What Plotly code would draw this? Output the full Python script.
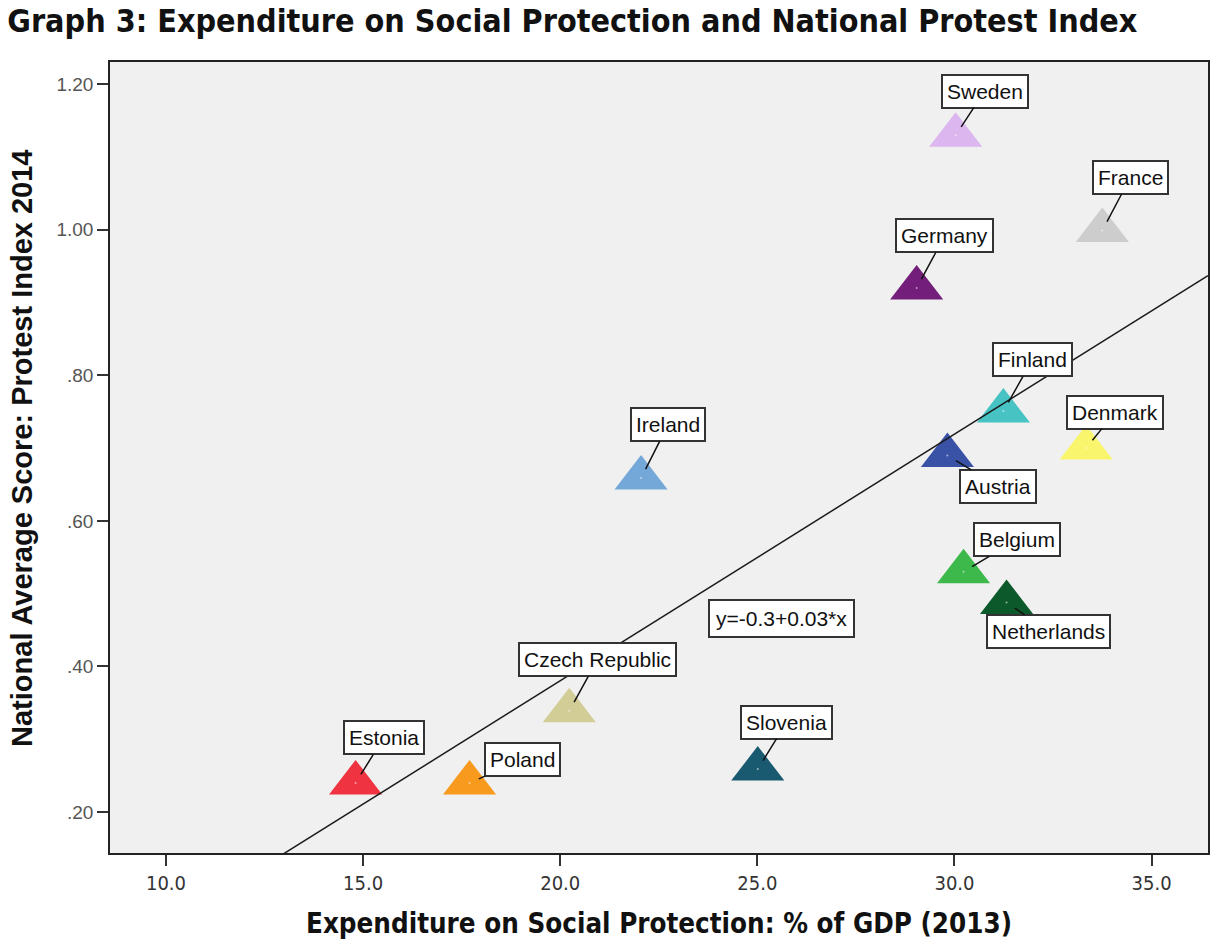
import numpy as np
import plotly.graph_objects as go

# Country data: social-protection spending (% of GDP, 2013) and protest index (2014)
countries = ["Sweden", "France", "Germany", "Finland", "Austria", "Denmark",
             "Belgium", "Netherlands", "Ireland", "Czech Republic", "Estonia",
             "Poland", "Slovenia"]
expenditure = [30.03, 33.75, 29.04, 31.24, 29.82, 33.34,
               30.23, 31.32, 22.05, 20.23, 14.81, 17.70, 25.01]
protest_index = [1.130, 0.999, 0.920, 0.751, 0.690, 0.700,
                 0.530, 0.488, 0.659, 0.339, 0.240, 0.240, 0.259]

x_ticks = [10.0, 15.0, 20.0, 25.0, 30.0, 35.0]
x_tick_text = ["10.0", "15.0", "20.0", "25.0", "30.0", "35.0"]
y_ticks = [0.20, 0.40, 0.60, 0.80, 1.00, 1.20]
y_tick_text = [".20", ".40", ".60", ".80", "1.00", "1.20"]

# Marker colours per country
colors = ["#dcb6ee", "#cdcdcd", "#731e7a", "#47c3c4", "#3a52a6", "#f9f56c",
          "#3cb94a", "#0c5a2b", "#73a8d9", "#d2cd96", "#ef3340", "#f79a1e",
          "#1a5a70"]

# Label box offsets (pixels from the point to the box centre)
label_offsets = {
    "Sweden": (29, -44), "France": (28, -53), "Germany": (28, -52),
    "Finland": (29, -51), "Austria": (51, 31), "Denmark": (29, -36),
    "Belgium": (53, -32), "Netherlands": (42, 29), "Ireland": (27, -53),
    "Czech Republic": (28, -51), "Estonia": (28, -45), "Poland": (53, -23),
    "Slovenia": (29, -47),
}

x_range = [8.58, 36.43]
y_range = [0.1437, 1.2305]

# Least-squares fit line
slope, intercept = np.polyfit(expenditure, protest_index, 1)
fit_x = np.array(x_range)
fit_y = intercept + slope * fit_x

LABEL_FONT = "Liberation Sans, Arial, sans-serif"
NARROW_FONT = "Liberation Sans Narrow, Arial Narrow, DejaVu Sans Condensed, Liberation Sans, sans-serif"

fig = go.Figure()

fig.add_trace(go.Scatter(
    x=expenditure, y=protest_index, mode="markers",
    marker=dict(symbol="triangle-up", size=46, color=colors, line=dict(width=0)),
    hoverinfo="text", text=countries, showlegend=False,
))
# small centre dots
fig.add_trace(go.Scatter(
    x=expenditure, y=protest_index, mode="markers",
    marker=dict(symbol="circle", size=2, color="rgba(255,255,255,0.55)"),
    hoverinfo="skip", showlegend=False,
))
fig.add_trace(go.Scatter(
    x=fit_x, y=fit_y, mode="lines",
    line=dict(color="#1a1a1a", width=1.5),
    hoverinfo="skip", showlegend=False,
))

for name, xv, yv in zip(countries, expenditure, protest_index):
    ax, ay = label_offsets[name]
    fig.add_annotation(
        x=xv, y=yv, xref="x", yref="y", text=name,
        showarrow=True, arrowhead=0, arrowwidth=1.5, arrowcolor="#111",
        standoff=10, ax=ax, ay=ay,
        font=dict(family=LABEL_FONT, size=21, color="#111"),
        bgcolor="white", bordercolor="#333", borderwidth=2, borderpad=4,
    )

fig.add_annotation(
    x=25.62, y=0.466, xref="x", yref="y",
    text=f"y={intercept:.1f}+{slope:.2f}*x", showarrow=False,
    font=dict(family=LABEL_FONT, size=21, color="#111"),
    bgcolor="white", bordercolor="#333", borderwidth=2, borderpad=6,
)

# Vertical axis title
fig.add_annotation(
    x=-0.08, y=0.511, xref="paper", yref="paper",
    text="National Average Score: Protest Index 2014",
    textangle=-90, showarrow=False, xanchor="center", yanchor="middle",
    font=dict(family=LABEL_FONT, size=29, weight="bold", color="#111"),
)

fig.update_layout(
    width=1213, height=945,
    margin=dict(l=110, r=3, t=62, b=92),
    paper_bgcolor="white", plot_bgcolor="#f0f0f0",
    title=dict(
        text="Graph 3: Expenditure on Social Protection and National Protest Index",
        x=0.006, xanchor="left", y=0.99, yanchor="top",
        font=dict(family=NARROW_FONT, size=32, weight="bold", color="#111"),
    ),
    xaxis=dict(
        range=x_range, tickvals=x_ticks, ticktext=x_tick_text,
        showgrid=False, zeroline=False,
        showline=True, mirror=True, linecolor="#222", linewidth=1.5,
        ticks="outside", ticklen=11, tickwidth=1.5, tickcolor="#333",
        tickfont=dict(family=NARROW_FONT, size=20, color="#333"),
        title=dict(text="Expenditure on Social Protection: % of GDP (2013)",
                   font=dict(family=NARROW_FONT, size=27.5, weight="bold", color="#111"),
                   standoff=20),
    ),
    yaxis=dict(
        range=y_range, tickvals=y_ticks, ticktext=y_tick_text,
        showgrid=False, zeroline=False,
        showline=True, mirror=True, linecolor="#222", linewidth=1.5,
        ticks="outside", ticklen=11, tickwidth=1.5, tickcolor="#333",
        tickfont=dict(family=LABEL_FONT, size=19, color="#555"),
    ),
)

fig.write_html("out.html")
